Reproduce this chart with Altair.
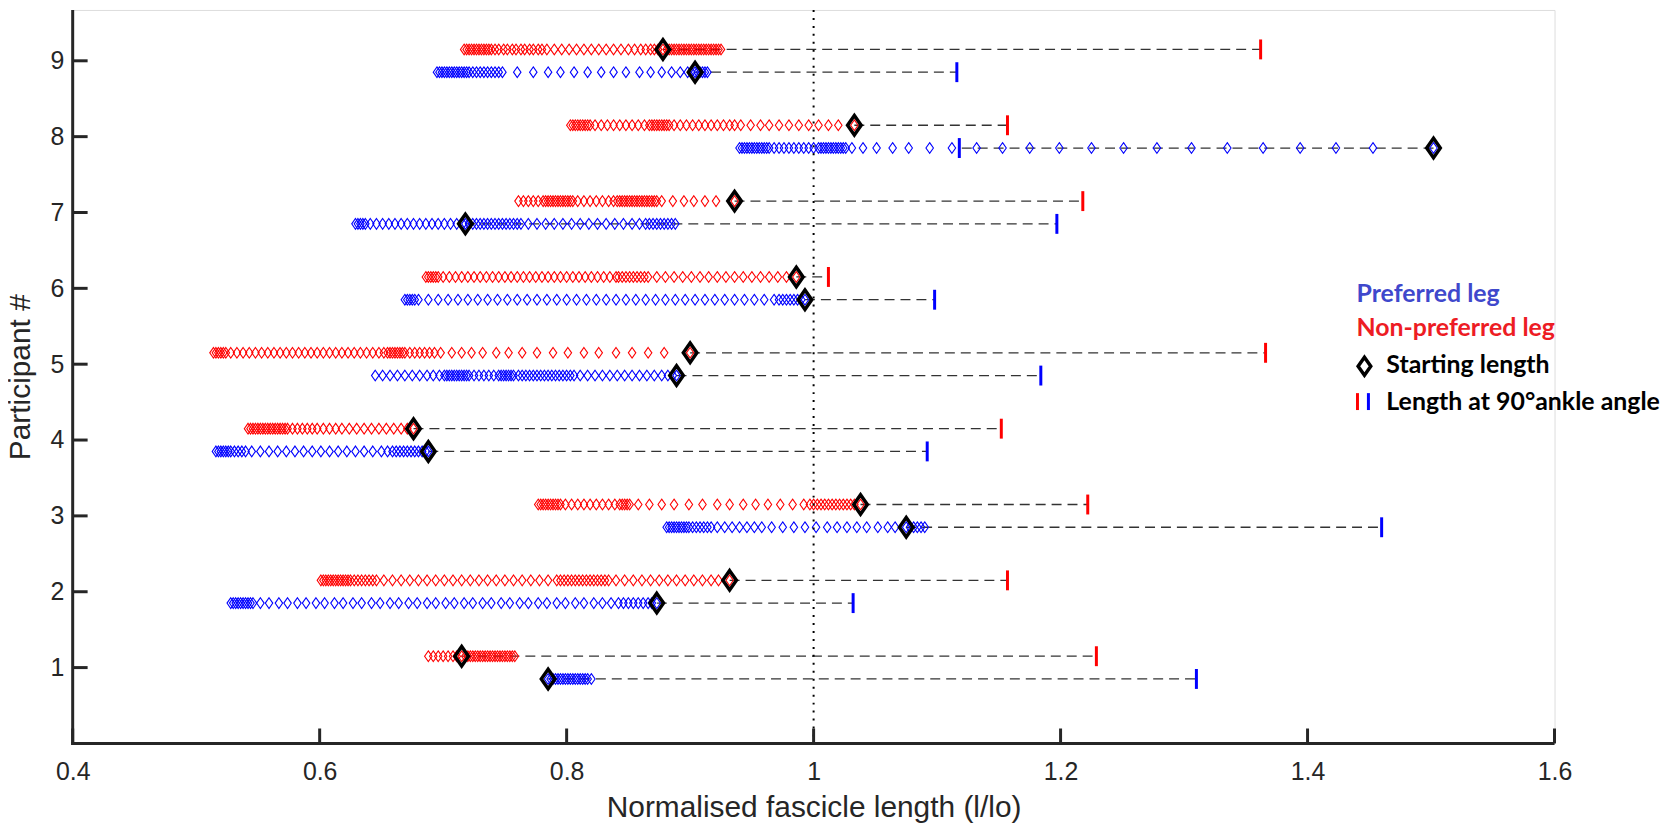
import altair as alt
import pandas as pd

participants = [1, 2, 3, 4, 5, 6, 7, 8, 9]
legs = ["Preferred leg", "Non-preferred leg"]
x_ticks = [0.4, 0.6, 0.8, 1.0, 1.2, 1.4, 1.6]

# Starting length (black diamonds), l/lo
start_pref = [0.785, 0.873, 1.075, 0.688, 0.889, 0.993, 0.718, 1.502, 0.904]
start_nonpref = [0.715, 0.932, 1.038, 0.676, 0.900, 0.986, 0.936, 1.033, 0.878]
# Length at 90 deg ankle angle (vertical ticks), l/lo
len90_pref = [1.310, 1.032, 1.460, 1.092, 1.184, 1.098, 1.197, 1.118, 1.116]
len90_nonpref = [1.229, 1.157, 1.222, 1.152, 1.366, 1.012, 1.218, 1.157, 1.362]

# Fascicle length samples, in thousandths of l/lo
pref_1 = [785, 787, 789, 791, 793, 795, 797, 799, 801, 803, 805, 807, 809, 811, 813, 815, 817, 820]
pref_2 = [528, 530, 532, 534, 536, 538, 540, 542, 544, 546, 552, 559, 567, 574, 582, 589, 597, 604, 612, 619,
          627, 634, 642, 649, 657, 664, 672, 679, 687, 694, 702, 709, 717, 724, 732, 739, 747, 754, 762, 769,
          777, 784, 792, 799, 807, 814, 822, 829, 836, 842, 846, 850, 854, 858, 862, 866, 869, 873]
pref_3 = [881, 883, 885, 887, 889, 891, 893, 895, 897, 899, 902, 905, 908, 911, 914, 917, 922, 928, 934, 940,
          946, 952, 958, 966, 975, 984, 993, 1002, 1011, 1019, 1027, 1035, 1043, 1052, 1060, 1066, 1075,
          1078, 1081, 1084, 1087, 1090]
pref_4 = [516, 518, 520, 522, 524, 526, 528, 531, 534, 537, 540, 545, 552, 559, 566, 573, 580, 587, 594, 601,
          608, 615, 622, 629, 636, 643, 650, 655, 659, 662, 665, 668, 671, 674, 677, 680, 683, 686, 688]
pref_5 = [645, 651, 657, 663, 669, 675, 681, 687, 692, 697, 701, 703, 705, 707, 709, 711, 713, 715, 717, 719,
          721, 725, 729, 733, 737, 741, 745, 747, 749, 751, 753, 755, 757, 761, 764, 767, 770, 773, 776, 779,
          782, 785, 788, 791, 794, 797, 800, 803, 806, 811, 817, 823, 829, 835, 841, 847, 853, 859, 865, 871,
          877, 882, 886, 889]
pref_6 = [669, 671, 673, 675, 677, 680, 688, 696, 704, 712, 720, 728, 736, 744, 752, 760, 768, 776, 784, 792,
          800, 808, 816, 824, 832, 840, 848, 856, 864, 872, 880, 888, 896, 904, 912, 920, 928, 936, 944, 952,
          960, 968, 972, 975, 978, 981, 984, 987, 990, 993]
pref_7 = [629, 631, 633, 635, 637, 641, 646, 651, 656, 661, 666, 671, 676, 681, 686, 691, 696, 701, 706, 711,
          716, 718, 721, 724, 727, 730, 733, 736, 739, 742, 745, 748, 751, 754, 757, 760, 763, 769, 776, 783,
          790, 797, 804, 811, 818, 825, 832, 839, 846, 853, 859, 864, 867, 870, 873, 876, 879, 882, 885, 888]
pref_8 = [940, 942, 944, 946, 948, 950, 952, 954, 956, 958, 960, 962, 964, 968, 972, 976, 980, 984, 988, 992,
          996, 1000, 1004, 1006, 1008, 1010, 1012, 1014, 1016, 1018, 1020, 1022, 1024, 1026, 1031, 1040, 1051,
          1064, 1077, 1094, 1112, 1132, 1153, 1175, 1199, 1225, 1251, 1278, 1306, 1335, 1364, 1394, 1423,
          1453, 1502]
pref_9 = [695, 697, 699, 701, 703, 705, 707, 709, 711, 713, 715, 717, 719, 721, 724, 727, 730, 733, 736, 739,
          742, 745, 748, 760, 773, 785, 795, 806, 817, 828, 838, 848, 859, 868, 877, 885, 892, 898, 901, 904,
          906, 908, 910, 912, 914]

nonpref_1 = [688, 692, 696, 700, 704, 708, 711, 715, 718, 720, 722, 724, 726, 728, 730, 732, 734, 736, 738, 740,
             742, 744, 746, 748, 750, 752, 754, 756, 758]
nonpref_2 = [601, 603, 605, 607, 609, 611, 613, 615, 617, 619, 621, 623, 625, 628, 631, 634, 637, 640, 643, 646,
             652, 659, 666, 673, 680, 687, 694, 701, 708, 715, 722, 729, 736, 743, 750, 757, 764, 771, 778, 785,
             792, 795, 798, 801, 804, 807, 810, 813, 816, 819, 822, 825, 828, 831, 834, 840, 847, 854, 861, 868,
             875, 882, 889, 896, 903, 910, 917, 923, 932]
nonpref_3 = [777, 779, 781, 783, 785, 787, 789, 791, 793, 795, 799, 804, 809, 814, 819, 824, 829, 834, 839, 843,
             845, 847, 849, 851, 858, 867, 877, 887, 899, 910, 922, 932, 943, 953, 963, 973, 983, 992, 997, 1000,
             1003, 1006, 1009, 1012, 1015, 1018, 1021, 1024, 1027, 1030, 1033, 1038]
nonpref_4 = [542, 544, 546, 548, 550, 552, 554, 556, 558, 560, 562, 564, 566, 568, 570, 572, 574, 578, 582, 586,
             590, 594, 598, 603, 608, 613, 618, 624, 630, 636, 642, 648, 654, 660, 666, 671, 676]
nonpref_5 = [514, 516, 518, 520, 522, 524, 528, 533, 538, 543, 548, 553, 558, 563, 568, 573, 578, 583, 588, 593,
             598, 603, 608, 613, 618, 623, 628, 633, 638, 643, 648, 652, 655, 657, 659, 661, 663, 665, 667, 669,
             673, 677, 681, 685, 689, 693, 698, 707, 715, 723, 732, 743, 753, 764, 776, 789, 801, 814, 826, 840,
             853, 866, 879, 900]
nonpref_6 = [686, 688, 690, 692, 694, 696, 700, 705, 710, 715, 720, 725, 730, 735, 740, 745, 750, 755, 760, 765,
             770, 775, 780, 785, 790, 795, 800, 805, 810, 815, 820, 825, 830, 835, 840, 842, 845, 848, 851, 854,
             857, 860, 863, 866, 873, 880, 887, 894, 901, 908, 915, 922, 929, 936, 943, 950, 957, 964, 971, 978,
             986]
nonpref_7 = [761, 765, 769, 773, 777, 781, 783, 785, 787, 789, 791, 793, 795, 797, 799, 801, 803, 805, 809, 814,
             819, 824, 829, 834, 838, 841, 843, 845, 847, 849, 851, 853, 855, 857, 859, 861, 863, 865, 867, 869,
             871, 873, 877, 886, 895, 903, 912, 921, 936]
nonpref_8 = [803, 805, 807, 809, 811, 813, 815, 817, 819, 823, 828, 833, 838, 843, 848, 853, 858, 863, 867, 869,
             871, 873, 875, 877, 879, 881, 883, 887, 892, 897, 902, 907, 912, 917, 922, 927, 932, 936, 941, 949,
             957, 964, 972, 980, 988, 996, 1004, 1012, 1020, 1033]
nonpref_9 = [717, 719, 721, 723, 725, 727, 729, 731, 733, 735, 737, 739, 742, 745, 749, 752, 756, 759, 763, 766,
             770, 773, 777, 780, 784, 790, 796, 802, 808, 814, 820, 826, 832, 838, 844, 850, 855, 860, 864, 868,
             871, 874, 878, 881, 883, 885, 887, 889, 891, 893, 895, 897, 899, 901, 903, 905, 907, 909, 911, 913,
             915, 917, 919, 921, 923, 925]

pref_series = [pref_1, pref_2, pref_3, pref_4, pref_5, pref_6, pref_7, pref_8, pref_9]
nonpref_series = [nonpref_1, nonpref_2, nonpref_3, nonpref_4, nonpref_5, nonpref_6, nonpref_7, nonpref_8, nonpref_9]

# ---- tables built from the arrays ----
pts = []
for p, vals in zip(participants, pref_series):
    for v in vals:
        pts.append({"participant": p, "leg": legs[0], "x": v / 1000})
for p, vals in zip(participants, nonpref_series):
    for v in vals:
        pts.append({"participant": p, "leg": legs[1], "x": v / 1000})
points = pd.DataFrame(pts)

summ = []
for i, p in enumerate(participants):
    summ.append({"participant": p, "leg": legs[0], "start": start_pref[i], "len90": len90_pref[i]})
    summ.append({"participant": p, "leg": legs[1], "start": start_nonpref[i], "len90": len90_nonpref[i]})
summary = pd.DataFrame(summ)

W, H = 1489, 737
AX = "#262626"
DIAMOND = "M0,-1L0.7,0L0,1L-0.7,0Z"
ycalc = "datum.participant + (datum.leg == 'Preferred leg' ? -0.15 : 0.15)"

xscale = alt.Scale(domain=[0.4, 1.6], nice=False, zero=False)
yscale = alt.Scale(domain=[0, 9.67], nice=False, zero=False)
cscale = alt.Scale(domain=legs, range=["#0000FF", "#FF0000"])

xaxis = alt.Axis(values=x_ticks, format="~g", title="Normalised fascicle length (l/lo)",
                 ticks=False, tickSize=0, domain=False, grid=False,
                 labelFont="Liberation Sans", labelFontSize=25, labelColor=AX, labelPadding=16,
                 labelFlush=False, labelOverlap=False,
                 titleFont="Liberation Sans", titleFontSize=30, titleFontWeight="normal", titleColor=AX,
                 titlePadding=8)
yaxis = alt.Axis(values=participants, format="d", title="Participant #",
                 ticks=False, tickSize=0, domain=False, grid=False,
                 labelFont="Liberation Sans", labelFontSize=25, labelColor=AX, labelPadding=9,
                 labelOverlap=False,
                 titleFont="Liberation Sans", titleFontSize=30, titleFontWeight="normal", titleColor=AX,
                 titlePadding=14)

base_s = alt.Chart(summary).transform_calculate(yy=ycalc)

dashes = base_s.mark_rule(color="#333333", strokeWidth=1.3, strokeDash=[10, 6]).encode(
    x=alt.X("start:Q", scale=xscale, axis=xaxis),
    x2="len90:Q",
    y=alt.Y("yy:Q", scale=yscale, axis=yaxis),
)

diamonds = alt.Chart(points).transform_calculate(yy=ycalc).mark_point(
    shape=DIAMOND, filled=False, size=115, strokeWidth=1.1, opacity=1
).encode(
    x=alt.X("x:Q", scale=xscale),
    y=alt.Y("yy:Q", scale=yscale),
    color=alt.Color("leg:N", scale=cscale, legend=None),
)

starts = base_s.mark_point(shape=DIAMOND, filled=False, size=380, strokeWidth=3.5, color="black", opacity=1).encode(
    x=alt.X("start:Q", scale=xscale),
    y=alt.Y("yy:Q", scale=yscale),
)

ticks90 = base_s.mark_tick(orient="vertical", size=20, thickness=3, opacity=1).encode(
    x=alt.X("len90:Q", scale=xscale),
    y=alt.Y("yy:Q", scale=yscale),
    color=alt.Color("leg:N", scale=cscale, legend=None),
)

ref_df = pd.DataFrame({"ref": [1.0]})
dotted = alt.Chart(ref_df).mark_rule(color="black", strokeWidth=2, strokeDash=[2, 6]).encode(
    x=alt.X("ref:Q", scale=xscale)
)

# inward axis ticks (MATLAB style)
xt_df = pd.DataFrame({"xt": x_ticks})
yt_df = pd.DataFrame({"yt": participants})
xticks = alt.Chart(xt_df).mark_rule(color=AX, strokeWidth=3).encode(
    x=alt.X("xt:Q", scale=xscale), y=alt.value(H - 15), y2=alt.value(H))
yticks = alt.Chart(yt_df).mark_rule(color=AX, strokeWidth=3).encode(
    y=alt.Y("yt:Q", scale=yscale), x=alt.value(0), x2=alt.value(15))

one = pd.DataFrame({"k": [0]})
yline = alt.Chart(one).mark_rule(color=AX, strokeWidth=3).encode(
    x=alt.value(0), y=alt.value(0), y2=alt.value(H + 1.5))
xline = alt.Chart(one).mark_rule(color=AX, strokeWidth=3).encode(
    x=alt.value(-1.5), x2=alt.value(W), y=alt.value(H))

LX = 1290
lg_font = dict(font="Lato", fontWeight="bold", fontSize=25, align="left", baseline="middle")
t1 = alt.Chart(one).mark_text(text="Preferred leg", color="#3F48CC", **lg_font).encode(
    x=alt.value(LX), y=alt.value(285))
t2 = alt.Chart(one).mark_text(text="Non-preferred leg", color="#ED1C24", **lg_font).encode(
    x=alt.value(LX), y=alt.value(320))
t3 = alt.Chart(one).mark_text(text="Starting length", color="black", **lg_font).encode(
    x=alt.value(LX + 30), y=alt.value(357))
t4 = alt.Chart(one).mark_text(text="Length at 90°ankle angle", color="black", **lg_font).encode(
    x=alt.value(LX + 30), y=alt.value(394))
lg_diamond = alt.Chart(one).mark_point(shape=DIAMOND, filled=False, size=330, strokeWidth=3.5,
                                        color="black", opacity=1).encode(x=alt.value(LX + 8), y=alt.value(358))
lg_red = alt.Chart(one).mark_rule(color="#FF0000", strokeWidth=3).encode(
    x=alt.value(LX + 1), y=alt.value(385), y2=alt.value(402))
lg_blue = alt.Chart(one).mark_rule(color="#0000FF", strokeWidth=3).encode(
    x=alt.value(LX + 12), y=alt.value(385), y2=alt.value(402))

chart = alt.layer(
    dashes, diamonds, dotted, starts, ticks90, xticks, yticks, yline, xline,
    t1, t2, t3, t4, lg_diamond, lg_red, lg_blue,
).properties(
    width=W, height=H,
    autosize=alt.AutoSizeParams(type="none"),
    padding={"left": 65, "top": 0, "right": 108, "bottom": 85},
).configure_view(stroke=None).configure(background="white")

chart.save("out.html", embed_options={"renderer": "svg", "actions": False})
